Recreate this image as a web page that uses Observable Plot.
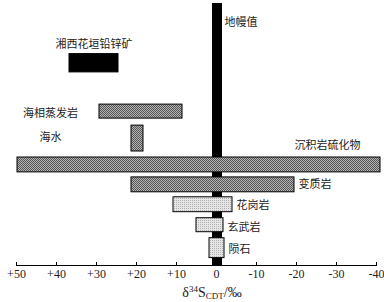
<!DOCTYPE html>
<html><head><meta charset="utf-8">
<script src="https://cdn.jsdelivr.net/npm/d3@7"></script>
<script src="https://cdn.jsdelivr.net/npm/@observablehq/plot@0.6"></script>
<style>body{margin:0;background:#fff}</style>
</head><body><div id="chart"></div>
<script>
// Data (δ34S ranges, ‰)
const categories = ["湘西花垣铅锌矿", "海相蒸发岩", "海水", "沉积岩硫化物", "变质岩", "花岗岩", "玄武岩", "陨石"];
const highValues = [36.75, 29.25, 21.25, 49.75, 21.25, 10.75, 5, 1.75];
const lowValues  = [24.5, 8.5, 18.25, -41, -19.5, -4, -1.75, -2];
const groups     = ["ore", "dark", "dark", "dark", "dark", "light", "light", "light"];
const mantleRange = [1, -1.5];
const mantleLabel = "地幔值";
const xTicks = [50, 40, 30, 20, 10, 0, -10, -20, -30, -40];

const rows = categories.map((c, i) => ({name: c, hi: highValues[i], lo: lowValues[i], group: groups[i]}));
const spacer = " ";
const yDomain = [categories[0], spacer, ...categories.slice(1)];

const cjk = "'Noto Sans CJK SC', sans-serif";
const fills = {ore: "black", dark: "url(#hatch)", light: "url(#dots)"};
// per-row vertical insets (style): [top, bottom]
const insets = {
  "湘西花垣铅锌矿": [-1.4, 6.1], "海相蒸发岩": [3.1, 5.9], "海水": [1.1, -4],
  "沉积岩硫化物": [10, -1.9], "变质岩": [6.9, 1.2], "花岗岩": [3.8, 4.3],
  "玄武岩": [1.7, 7.3], "陨石": [-1.3, 4.4]
};
const labelDy = {"海相蒸发岩": 0, "海水": 1.5, "变质岩": 2.5, "花岗岩": 0, "玄武岩": -1, "陨石": -2};

const barMarks = rows.map(r => Plot.barX([r], {
  x1: "hi", x2: "lo", y: "name",
  fill: fills[r.group], stroke: "black", strokeWidth: 1,
  insetTop: insets[r.name][0], insetBottom: insets[r.name][1]
}));

const sideLabels = rows.filter(r => ["变质岩", "花岗岩", "玄武岩", "陨石"].includes(r.name)).map(r =>
  Plot.text([r], {x: "lo", y: "name", text: "name", textAnchor: "start", dx: 4, dy: labelDy[r.name],
    fontFamily: cjk, fontSize: 11, fill: "#222"}));
const leftLabels = rows.filter(r => r.name === "海相蒸发岩" || r.name === "海水").map(r =>
  Plot.text([r], {y: "name", text: "name", frameAnchor: "left", dx: 34, textAnchor: "middle", dy: labelDy[r.name],
    fontFamily: cjk, fontSize: 11, fill: "#222"}));

const chart = Plot.plot({
  width: 384, height: 302,
  marginTop: 3, marginBottom: 37, marginLeft: 16, marginRight: 8,
  style: {fontFamily: "'Liberation Serif', serif", fontSize: "12px", color: "#222"},
  x: {domain: [50, -40], axis: null},
  y: {type: "band", domain: yDomain, range: [54.7, 262.4], padding: 0, axis: null},
  marks: [
    Plot.rect([mantleRange], {x1: d => d[0], x2: d => d[1], fill: "black"}),
    ...barMarks,
    Plot.frame({anchor: "bottom", stroke: "black"}),
    Plot.tickX(xTicks, {x: d => d, stroke: "black", insetTop: 259}),
    Plot.axisX({ticks: xTicks, tickSize: 0, tickPadding: 4,
      tickFormat: d => d > 0 ? "+" + d : String(d), fontSize: 12}),
    Plot.text([mantleLabel], {frameAnchor: "top", x: () => mantleRange[1], text: d => d,
      textAnchor: "start", dx: 2, dy: 15, fontFamily: cjk, fontSize: 11, fill: "#222"}),
    Plot.text(rows.filter(r => r.group === "ore"), {x: d => (d.hi + d.lo) / 2, y: "name", text: "name",
      dy: -23, fontFamily: cjk, fontSize: 11, fill: "#222"}),
    ...leftLabels,
    Plot.text(rows.filter(r => r.name === "沉积岩硫化物"), {x: "lo", y: "name", text: "name",
      textAnchor: "end", dx: -20, dy: -13.5, fontFamily: cjk, fontSize: 11, fill: "#222"}),
    ...sideLabels
  ]
});

const svg = d3.select(chart);
const defs = svg.insert("defs", ":first-child");
const h = defs.append("pattern").attr("id", "hatch").attr("patternUnits", "userSpaceOnUse").attr("width", 2).attr("height", 2);
h.append("rect").attr("width", 2).attr("height", 2).attr("fill", "#b4b4b4");
h.append("rect").attr("width", 1).attr("height", 1).attr("fill", "#555");
h.append("rect").attr("x", 1).attr("y", 1).attr("width", 1).attr("height", 1).attr("fill", "#555");
const p = defs.append("pattern").attr("id", "dots").attr("patternUnits", "userSpaceOnUse").attr("width", 2).attr("height", 2);
p.append("rect").attr("width", 2).attr("height", 2).attr("fill", "#e6e6e6");
p.append("rect").attr("width", 1).attr("height", 1).attr("fill", "#b0b0b0");

const xs = chart.scale("x");
const t = svg.append("text").attr("x", xs.apply(0) - 4).attr("y", 297).attr("text-anchor", "middle")
  .attr("font-family", "'Liberation Serif', serif").attr("font-size", 14).attr("fill", "#222");
t.append("tspan").text("δ");
t.append("tspan").attr("font-size", 9).attr("dy", -5).text("34");
t.append("tspan").attr("dy", 5).text("S");
t.append("tspan").attr("font-size", 9).attr("dy", 2).text("CDT");
t.append("tspan").attr("dy", -2).text("/‰");

document.getElementById("chart").appendChild(chart);
</script>
</body></html>
